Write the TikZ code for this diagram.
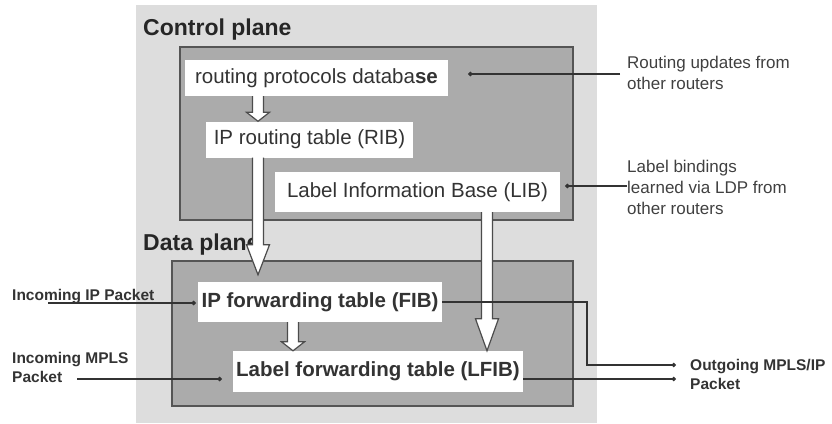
\documentclass[tikz,border=0pt]{standalone}
\usepackage{fontspec}
\setmainfont{Liberation Sans}
\usetikzlibrary{arrows.meta,positioning,calc}
\definecolor{planebg}{HTML}{DDDDDD}
\definecolor{planebox}{HTML}{ABABAB}
\definecolor{planeedge}{HTML}{555555}
\definecolor{inktext}{HTML}{333333}

% hollow block arrow: start point, end point (only its y), head length
\newcommand{\hollowarrow}[3]{%
  \filldraw[blockarrow] let \p1=(#1), \p2=(#2) in
    (\x1-5.5pt,\y1) -- (\x1-5.5pt,\y2+#3) -- (\x1-11.5pt,\y2+#3) -- (\x1,\y2)
    -- (\x1+11.5pt,\y2+#3) -- (\x1+5.5pt,\y2+#3) -- (\x1+5.5pt,\y1);
}

\begin{document}
\begin{tikzpicture}[x=1pt,y=-1pt,
  plane/.style={draw=planeedge, line width=1.8pt, fill=planebox, inner sep=0pt},
  table/.style={fill=white, inner sep=0pt, minimum height=36pt, text=inktext,
    font=\fontsize{20.5}{24}\selectfont},
  datatable/.style={table, font=\fontsize{20.5}{24}\selectfont\bfseries},
  title/.style={anchor=west, inner sep=0pt, font=\fontsize{23}{26}\selectfont\bfseries, text=black!85},
  note/.style={anchor=west, inner sep=0pt, align=left, text=black!75,
    font=\fontsize{17}{21}\selectfont},
  packet/.style={anchor=west, inner sep=0pt, align=left, text=inktext,
    font=\fontsize{15.5}{19}\selectfont\bfseries},
  link/.style={draw=black!80, line width=1.1pt, -{Circle[length=4.5pt]}},
  blockarrow/.style={draw=black!70, fill=white, line width=1.2pt, line join=miter}]
  \useasboundingbox (0,0) rectangle (832,423);
  \fill[planebg] (136,5) rectangle (597,423);

  % planes
  \node[plane, minimum width=393pt, minimum height=173pt] (ctrl) at (376.5,133.5) {};
  \node[plane, minimum width=401pt, minimum height=145pt] (data) at (372.5,333.5) {};
  \node[title] (ctrltitle) at (143,30) {Control plane};
  \node[title] (datatitle) at (143,245) {Data plane};

  % tables
  \node[table, minimum width=263pt] (db) at (316.5,78) {routing protocols databa\textbf{se}};
  \node[table, minimum width=207pt] (rib) at (309.5,139.5) {IP routing table (RIB)};
  \node[table, minimum width=285pt, minimum height=40pt] (lib) at (417.5,192) {Label Information Base (LIB)};
  \node[datatable, minimum width=244pt, minimum height=40pt] (fib) at (320,302) {IP forwarding table (FIB)};
  \node[datatable, minimum width=290pt, minimum height=41pt] (lfib) at (378,371.5) {Label forwarding table (LFIB)};

  % block arrows
  \hollowarrow{$(db.south)+(-58.5,0)$}{rib.north}{9pt}
  \hollowarrow{$(rib.south)+(-51.5,0)$}{[yshift=7pt]fib.north}{30pt}
  \hollowarrow{$(fib.south)+(-27,0)$}{lfib.north}{9pt}
  \hollowarrow{$(lib.south)+(69.5,0)$}{lfib.north}{32pt}

  % outside notes
  \node[note] (updates) at (627,73) {Routing updates from\\other routers};
  \node[note] (bindings) at (627,187) {Label bindings\\learned via LDP from\\other routers};
  \node[packet] (inip) at (12,297) {Incoming IP Packet};
  \node[packet] (inmpls) at (12,367.5) {Incoming MPLS\\Packet};
  \node[packet] (out) at (690,374.5) {Outgoing MPLS/IP\\Packet};

  \coordinate (updfrom) at (620,74);
  \coordinate (ipfrom) at (48,303);
  \coordinate (mplsfrom) at (77,379);
  \coordinate (outip) at (676,365);
  \coordinate (outlabel) at (676,379);
  \coordinate (bend) at (587,302);

  % connectors
  \draw[link] (updfrom) -- ([xshift=20pt,yshift=4pt]db.east);
  \draw[link] (bindings.west |- 0,186) -- ([xshift=5pt,yshift=6pt]lib.east);
  \draw[link] (ipfrom) -- ([xshift=-2pt]fib.west |- ipfrom);
  \draw[link] (mplsfrom) -- ([xshift=-11pt]lfib.west |- mplsfrom);
  \draw[link] (fib.east) -- (bend) |- (outip);
  \draw[link] (lfib.east |- outlabel) -- (outlabel);
\end{tikzpicture}
\end{document}
